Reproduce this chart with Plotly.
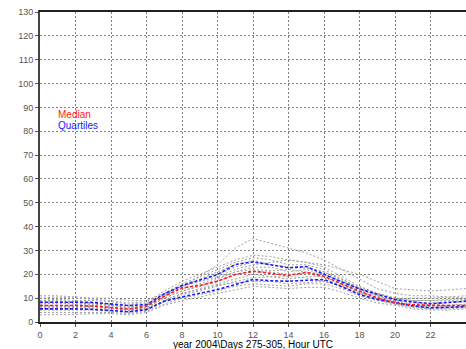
import plotly.graph_objects as go

# Hour of day (UTC)
hours = list(range(25))

# Daily curves for days 275-305
day_series = [
    [9, 9, 8.5, 8, 7.5, 6.5, 7, 11, 15, 19, 24, 31, 35, 33, 31, 29, 26, 22, 18, 14, 12, 11, 11, 10.5, 10],
    [10, 10.5, 10, 9.5, 9, 8, 8.5, 13, 17, 20, 23, 26, 28, 27.5, 26, 25, 23, 19, 15, 12, 10, 10, 10, 10.5, 11],
    [8, 8, 8, 7.5, 7, 6, 7, 12, 16, 19, 22, 25, 27, 26, 24, 24, 22, 18, 14, 11, 9, 8.5, 8, 8.5, 9],
    [7, 7, 7, 7, 6.5, 5.5, 6, 10, 13, 15, 18, 21, 23, 23, 21, 22, 20, 17, 13.5, 11, 8.5, 7.5, 7, 7, 7],
    [6, 6, 6, 6, 5.5, 5, 5.5, 9, 12, 14, 16, 18, 20, 19, 18, 19, 19, 16, 13, 10, 8, 7, 6.5, 6.5, 7],
    [4, 4, 4, 4, 4, 3.5, 4.5, 7.5, 10, 11.5, 13, 15, 16, 15.5, 15, 16, 16, 14, 11, 9, 7.5, 6, 5.5, 5.5, 6],
    [3, 3, 3.2, 3.5, 3.5, 3, 4, 7, 9, 10.5, 12, 13.5, 15, 14.5, 14, 14.5, 14.5, 12.5, 10, 8, 7, 5.5, 5, 5, 5.5],
    [9, 9.5, 9, 9, 8.5, 7.5, 8, 12, 15, 17, 19, 22, 24, 25, 26, 25, 24, 22, 20, 17, 14, 13.5, 13, 13.5, 14],
    [7.5, 8, 7.5, 7.5, 7, 6, 7, 11, 14, 16, 18.5, 21, 22, 21.5, 22, 21, 20, 17, 14, 11.5, 9.5, 9, 9, 9, 9.5],
    [5, 5, 5, 5, 4.5, 4, 5, 8.5, 11.5, 13, 15, 17, 18.5, 19, 19, 18.5, 17, 15, 12, 9.5, 7.5, 6.5, 6, 6, 6.5],
    [11, 11, 10.5, 10, 10, 9, 9, 12, 15, 18, 21, 24, 26, 24, 23, 23, 21, 18, 14.5, 12, 10, 9, 9, 9.5, 10],
    [6.5, 6.5, 6.5, 6.5, 6, 5, 6, 10, 13, 15, 17, 20, 21, 21, 20, 20.5, 18.5, 15.5, 12.5, 10, 8, 7, 6.5, 7, 7.5],
    [8.5, 8.5, 8.5, 8, 7.5, 7, 7.5, 11.5, 15, 17, 20, 23, 25, 24, 23, 22.5, 21, 17.5, 14, 11, 9, 8, 7.5, 8, 8.5],
    [5.5, 5.5, 5.5, 5.5, 5, 4.5, 5.5, 9, 12, 13.5, 15.5, 16.5, 17, 17, 16, 16.5, 17, 15, 12, 9.5, 8, 6.5, 6, 6, 6.5],
]

median = [6.9, 7.0, 6.9, 6.7, 5.9, 5.4, 6.6, 10.8, 14.3, 15.3, 17.1, 19.9, 21.3, 20.3, 19.5,
          20.8, 19.2, 16.0, 12.9, 10.2, 8.0, 7.2, 6.9, 6.9, 6.9]
upper_q = [8.3, 8.4, 8.3, 8.2, 7.7, 6.9, 7.3, 11.8, 15.3, 17.5, 19.9, 24.1, 25.2, 24.0, 22.7,
           23.3, 19.9, 16.8, 13.9, 11.5, 9.4, 8.4, 7.7, 8.2, 8.7]
lower_q = [5.5, 5.6, 5.5, 5.3, 4.9, 4.3, 5.2, 8.7, 10.5, 11.9, 13.6, 15.7, 17.8, 17.3, 17.1,
           17.5, 17.8, 14.8, 11.5, 9.5, 8.0, 6.8, 5.9, 6.0, 6.4]

x_ticks = list(range(0, 25, 2))
y_ticks = list(range(0, 131, 10))

fig = go.Figure()

for s in day_series:
    fig.add_trace(go.Scatter(x=hours, y=s, mode="lines",
                             line=dict(color="#a0a0a0", width=1, dash="2px,2px"),
                             showlegend=False, hoverinfo="skip"))

for q in (upper_q, lower_q):
    fig.add_trace(go.Scatter(x=hours, y=q, mode="lines",
                             line=dict(color="#1a1aff", width=1.6, dash="3px,2px"),
                             showlegend=False, hoverinfo="skip"))

fig.add_trace(go.Scatter(x=hours, y=median, mode="lines",
                         line=dict(color="#ff1a1a", width=1.6, dash="3px,2px"),
                         showlegend=False, hoverinfo="skip"))

# Series labels in the upper-left corner of the plot
fig.add_annotation(x=0.9, y=87.0, xref="x", yref="y", text="Median",
                   showarrow=False, xanchor="left", yanchor="middle",
                   font=dict(color="#ff2020", size=10, family="Liberation Sans, Arial"))
fig.add_annotation(x=0.9, y=82.3, xref="x", yref="y", text="Quartiles",
                   showarrow=False, xanchor="left", yanchor="middle",
                   font=dict(color="#2020ff", size=10, family="Liberation Sans, Arial"))

fig.add_annotation(x=0.5, y=-0.052, xref="paper", yref="paper",
                   text="year 2004\\Days 275-305, Hour UTC",
                   showarrow=False, xanchor="center", yanchor="top", borderpad=0,
                   font=dict(color="#000000", size=10, family="Liberation Sans, Arial"))

fig.update_layout(
    width=466, height=349,
    margin=dict(l=40, r=0, t=12, b=27),
    paper_bgcolor="white", plot_bgcolor="white",
    hovermode=False,
    font=dict(family="Liberation Sans Narrow, Liberation Sans, Arial", size=9, color="#555555"),
    xaxis=dict(range=[0, 24], tickvals=x_ticks, ticktext=[str(v) for v in x_ticks],
               showgrid=True, gridcolor="#808080", griddash="2px,2px", gridwidth=1,
               showline=True, linecolor="#222222", linewidth=2, mirror=True,
               ticks="outside", ticklen=3, tickcolor="#555555", zeroline=False),
    yaxis=dict(range=[0, 130], tickvals=y_ticks, ticktext=[str(v) for v in y_ticks],
               showgrid=True, gridcolor="#808080", griddash="2px,2px", gridwidth=1,
               showline=True, linecolor="#444444", linewidth=2,
               ticks="outside", ticklen=3, tickcolor="#555555", zeroline=False),
)

fig.write_html("out.html")
